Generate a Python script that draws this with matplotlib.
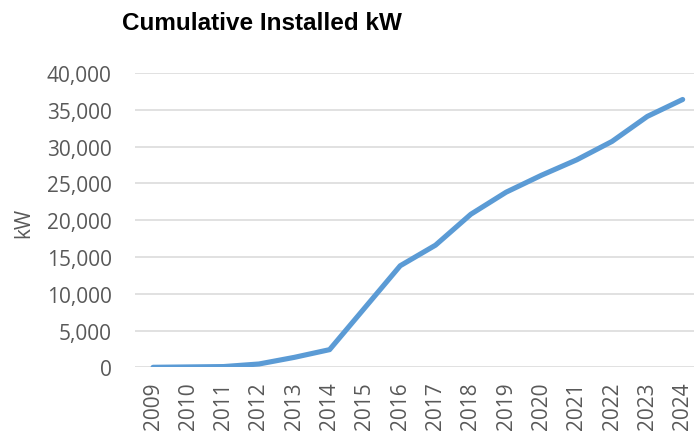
import matplotlib
matplotlib.use("Agg")
import matplotlib.pyplot as plt
from matplotlib.ticker import FuncFormatter

years = [str(y) for y in range(2009, 2025)]
cumulative_kw = [0, 50, 100, 450, 1350, 2400, 8100, 13800, 16600, 20800,
                 23800, 26100, 28200, 30700, 34100, 36400]
y_ticks = [0, 5000, 10000, 15000, 20000, 25000, 30000, 35000, 40000]

W, H = 694, 435
fig = plt.figure(figsize=(W / 100, H / 100), dpi=100)
left = 135.4 / W
bottom = (H - 368.3) / H
top = (H - 74.0) / H
ax = fig.add_axes([left, bottom, 1 - left, top - bottom])

x = list(range(len(years)))
ax.plot(x, cumulative_kw, color="#5B9BD5", lw=3.7, solid_capstyle="round",
        solid_joinstyle="round", zorder=3)

ax.set_ylim(0, 40000)
ax.set_xlim(-0.5, (694 - 153.3) / 35.29)
ax.set_yticks(y_ticks)
ax.yaxis.set_major_formatter(FuncFormatter(lambda v, p: f"{int(v):,}"))
ax.set_xticks(x)
ax.set_xticklabels(years, rotation=90)
ax.grid(axis="y", color="#D9D9D9", lw=1.1, zorder=0)
ax.set_axisbelow(True)
for s in ax.spines.values():
    s.set_visible(False)
ax.tick_params(axis="both", length=0, colors="#595959", labelsize=15)
ax.tick_params(axis="y", pad=17)
ax.tick_params(axis="x", pad=10)
for lab in ax.get_xticklabels() + ax.get_yticklabels():
    lab.set_fontfamily("Open Sans")
    lab.set_color("#595959")

fig.text(24 / W, 1 - 223 / H, "kW", rotation=90, ha="center", va="center",
         fontsize=15, color="#595959", family="Open Sans")
fig.text(262 / W, 1 - 23 / H, "Cumulative Installed kW", ha="center",
         va="center", fontsize=17.5, fontweight="bold", color="black",
         family="Liberation Sans")

fig.savefig("out.png", dpi=100)
